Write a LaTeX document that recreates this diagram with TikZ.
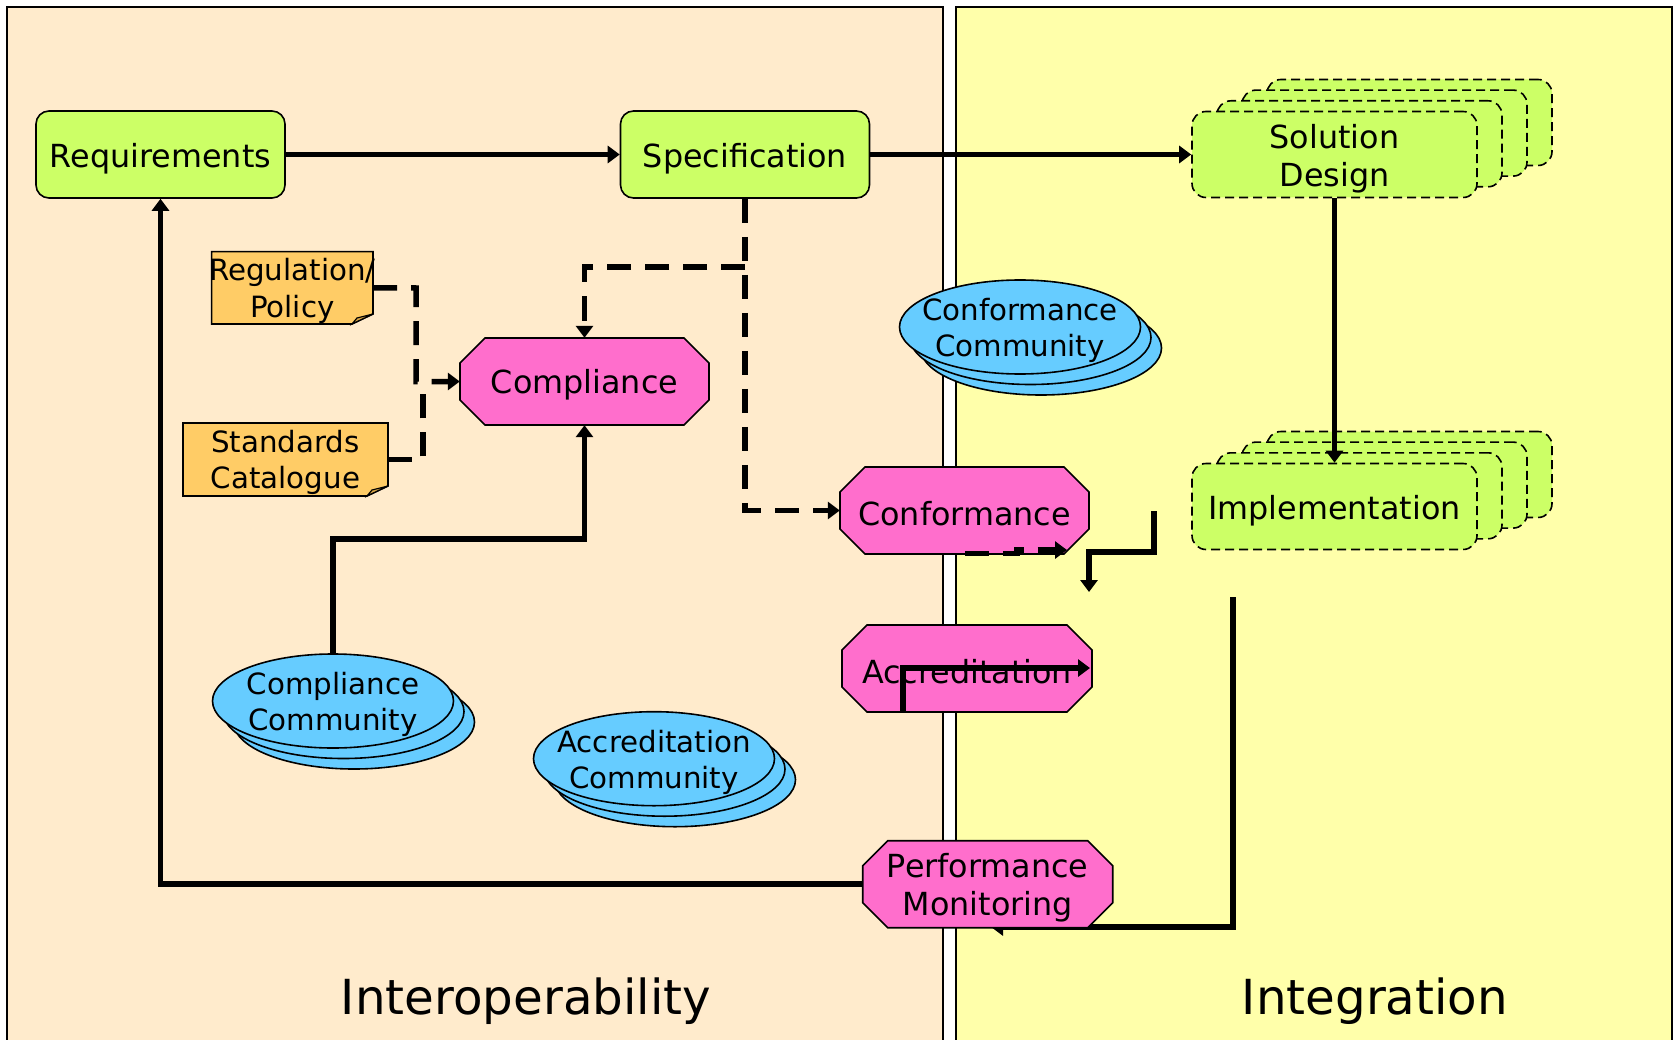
\documentclass[tikz,border=0pt]{standalone}
\usepackage{fontspec}
\setmainfont{DejaVu Sans}
\usetikzlibrary{shapes.geometric,arrows.meta,calc}

\definecolor{panelL}{RGB}{255,235,204}
\definecolor{panelR}{RGB}{255,255,170}
\definecolor{boxgreen}{RGB}{204,255,102}
\definecolor{octpink}{RGB}{255,110,204}
\definecolor{notegold}{RGB}{255,204,102}
\definecolor{notefold}{RGB}{215,165,70}
\definecolor{commblue}{RGB}{102,204,255}

\newcommand{\boxfont}{\fontsize{31.8}{38}\selectfont}
\newcommand{\smallfont}{\fontsize{29.3}{36.5}\selectfont}
\newcommand{\titlefont}{\fontsize{48.3}{56}\selectfont}

\tikzset{
  panelline/.style={line width=2.2pt, line cap=rect},
  stagebox/.style={draw, line width=1.6pt, fill=boxgreen, rounded corners=13pt,
    minimum width=249pt, minimum height=87pt, inner sep=0pt},
  stackbox/.style={stagebox, dash pattern=on 9pt off 5pt, minimum width=285pt,
    minimum height=86pt, rounded corners=14pt},
  boxlabel/.style={inner sep=0pt, font=\boxfont, align=center},
  octfill/.style={draw, line width=1.6pt, fill=octpink, line join=miter},
  octframe/.style={inner sep=0pt},
  notefill/.style={draw, line width=1.6pt, fill=notegold},
  noteframe/.style={inner sep=0pt},
  smalllabel/.style={inner sep=0pt, font=\smallfont, align=center},
  commell/.style={ellipse, draw, line width=1.6pt, fill=commblue, inner sep=0pt,
    minimum width=241pt, minimum height=94pt},
  plainline/.style={line width=5.5pt},
  flow/.style={plainline, -{Triangle[length=12pt,width=17pt]}},
  dashline/.style={plainline, dash pattern=on 24pt off 14pt},
  flowdash/.style={flow, dash pattern=on 24pt off 14pt},
}

% rounded stage box: name, centre x, centre y, text
\newcommand{\stagenode}[4]{%
  \node[stagebox] (#1) at (#2,#3) {};
  \node[boxlabel] (#1t) at (#2,#3+4) {#4};
}

% octagon: name, centre x, centre y, width, height, text
\newcommand{\octnode}[6]{%
  \pgfmathsetmacro{\oxa}{#2-#4/2}\pgfmathsetmacro{\oxb}{#2+#4/2}%
  \pgfmathsetmacro{\oya}{#3-#5/2}\pgfmathsetmacro{\oyb}{#3+#5/2}%
  \draw[octfill] (\oxa+25,\oya) -- (\oxb-25,\oya) -- (\oxb,\oya+25) -- (\oxb,\oyb-25)
    -- (\oxb-25,\oyb) -- (\oxa+25,\oyb) -- (\oxa,\oyb-25) -- (\oxa,\oya+25) -- cycle;
  \node[octframe, minimum width=#4pt, minimum height=#5pt] (#1) at (#2,#3) {};
  \node[boxlabel] (#1t) at (#2,#3+3.5) {#6};
}

% note with folded corner: name, x0, y0, x1, y1, text
\newcommand{\notenode}[6]{%
  \pgfmathsetmacro{\nw}{#4-#2}\pgfmathsetmacro{\nh}{#5-#3}%
  \pgfmathsetmacro{\ncx}{(#2+#4)/2}\pgfmathsetmacro{\ncy}{(#3+#5)/2}%
  \draw[notefill] (#2,#3) -- (#4,#3) -- (#4,#5-10) -- (#4-21,#5) -- (#2,#5) -- cycle;
  \draw[notefill, fill=notefold, line width=1.2pt] (#4,#5-10) -- (#4-16,#5-6) -- (#4-21,#5) -- cycle;
  \node[noteframe, minimum width=\nw pt, minimum height=\nh pt] (#1) at (\ncx,\ncy) {};
  \node[smalllabel] (#1t) at (\ncx,\ncy+3) {#6};
}

% stack of three community ellipses: name, centre x, centre y, text
\newcommand{\commstack}[4]{%
  \node[commell] (#1b2) at (#2+21,#3+21) {};
  \node[commell] (#1b1) at (#2+10.5,#3+10.5) {};
  \node[commell] (#1) at (#2,#3) {};
  \node[smalllabel] (#1t) at (#2,#3+3.5) {#4};
}

% stack of four dashed design boxes: name, centre x, centre y, text
\newcommand{\stacknode}[4]{%
  \node[stackbox] (#1s3) at (#2+75,#3-32) {};
  \node[stackbox] (#1s2) at (#2+50,#3-21.4) {};
  \node[stackbox] (#1s1) at (#2+25,#3-10.7) {};
  \node[stackbox] (#1) at (#2,#3) {};
  \node[boxlabel] (#1t) at (#2,#3+4) {#4};
}

\begin{document}
\begin{tikzpicture}[x=1pt,y=-1pt]
  \clip (0,0) rectangle (1677,1040);
  \fill[white] (0,0) rectangle (1677,1040);

  % the two domain panels
  \fill[panelL] (7,7) rectangle (943,1060);
  \draw[panelline] (7,1060) -- (7,7) -- (943,7) -- (943,1060);
  \fill[panelR] (956,7) rectangle (1672,1060);
  \draw[panelline] (956,1060) -- (956,7) -- (1672,7) -- (1672,1060);

  % feedback from implementation into monitoring (runs under the octagon)
  \coordinate (implfoot) at (1233,597);
  \coordinate (perfin) at (991,927);
  \draw[flow] (implfoot) |- (perfin);

  % sources
  \notenode{reg}{211.6}{251.7}{373}{324}{Regulation/\\Policy}
  \notenode{std}{183}{423}{388}{496}{Standards\\Catalogue}

  % communities
  \commstack{fcom}{1020}{327}{Conformance\\Community}
  \commstack{ccom}{333}{701}{Compliance\\Community}
  \commstack{acom}{654}{758.7}{Accreditation\\Community}

  % lifecycle stages
  \stagenode{req}{160.5}{154.5}{Requirements}
  \stagenode{spec}{745}{154.5}{Specification}
  \stacknode{sol}{1334.5}{154.5}{Solution\\Design}
  \stacknode{impl}{1334.5}{506.5}{Implementation}

  % assessment activities
  \octnode{comp}{584.5}{381.5}{249}{87}{Compliance}
  \octnode{conf}{964.5}{510.5}{249}{87}{Conformance}
  \octnode{accr}{967}{668.5}{250}{87}{Accreditation}
  \octnode{perf}{987.7}{884.2}{250}{87}{Performance\\Monitoring}

  % main flow
  \draw[flow] (req.east) -- (spec.west);
  \draw[flow] (spec.east) -- (sol.west);
  \draw[flow] (sol.south) -- (impl.north);
  \draw[flow] (perf.west) -| (req.south);

  % specification feeds compliance and conformance
  \coordinate (specsplit) at (745,267);
  \draw[flowdash] (spec.south) |- (conf.west);
  \draw[flowdash] (specsplit) -| (comp.north);

  % sources feed compliance
  \coordinate (regbend) at (416,288);
  \draw[flowdash] (reg.east) -- (regbend) |- (comp.west);
  \coordinate (stdend) at (423,390);
  \draw[dashline] (std.east) -| (stdend);

  % compliance community
  \coordinate (ccombend) at (333,539);
  \draw[flow] (ccom.north) -- (ccombend) -| (comp.south);

  % loose connector fragments around conformance and accreditation
  \coordinate (cd1) at (965,553.5);
  \coordinate (cd2) at (1017,553.5);
  \coordinate (cd3) at (1017,550);
  \coordinate (cd4) at (1067,550);
  \draw[flowdash] (cd1) -- (cd2) -- (cd3) -- (cd4);

  \coordinate (el1) at (1154,511);
  \coordinate (el2) at (1154,552);
  \coordinate (el3) at (1089,552);
  \coordinate (el4) at (1089,592);
  \draw[flow] (el1) -- (el2) -- (el3) -- (el4);

  \coordinate (ac1) at (903,712);
  \coordinate (ac2) at (903,668);
  \coordinate (ac3) at (1090,668);
  \draw[flow] (ac1) -- (ac2) -- (ac3);

  % domain titles
  \node[font=\titlefont, anchor=base, inner sep=0pt] (titleL) at (526,1014) {Interoperability};
  \node[font=\titlefont, anchor=base, inner sep=0pt] (titleR) at (1375,1014) {Integration};
\end{tikzpicture}
\end{document}
